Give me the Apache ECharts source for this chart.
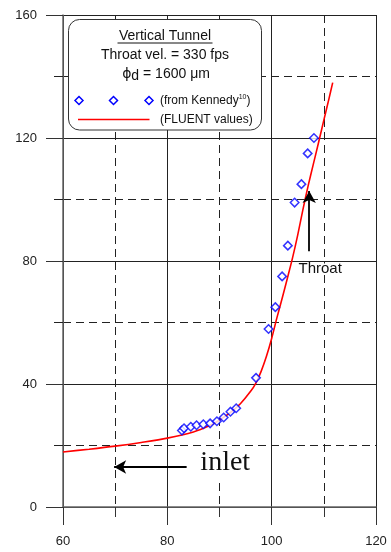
<!DOCTYPE html>
<html>
<head>
<meta charset="utf-8">
<script src="https://cdn.jsdelivr.net/npm/echarts@6/dist/echarts.min.js"></script>
<style>
  html, body { margin: 0; padding: 0; background: #fff; }
  #c { width: 391px; height: 552px; }
</style>
</head>
<body>
<div id="c"></div>
<script>
// Measured points (from Kennedy)
const kennedyX = [82.8, 83.2, 84.5, 85.6, 86.9, 88.2, 89.5, 90.8, 92.1, 93.2, 97.0, 99.4, 100.7, 102.0, 103.1, 104.4, 105.7, 106.9, 108.1];
const kennedyY = [24.9, 25.6, 26.1, 26.6, 26.9, 27.2, 27.9, 29.1, 31.0, 32.1, 42.0, 57.9, 65.0, 75.0, 85.0, 99.0, 105.0, 115.0, 120.0];

// FLUENT computed profile
const fluentX = [60, 65, 70, 75, 80, 85, 88, 90, 92, 94, 96, 97, 98, 99, 100, 101, 102, 103, 104, 105, 106, 107, 108, 109, 110, 111, 111.7];
const fluentY = [17.9, 18.8, 19.8, 21.0, 22.4, 24.4, 26.4, 28.3, 30.6, 33.6, 37.7, 40.4, 44.2, 49.0, 54.8, 61.5, 67.8, 74.3, 81.0, 88.5, 96.8, 104.5, 111.6, 118.6, 125.8, 132.9, 138.0];

// Axis ranges and labelled ticks
const xRange = [60, 120];
const yRange = [0, 160];
const xStep = 20;
const yStep = 40;

// Annotation anchors (data coordinates)
const throatArrow = [[107.2, 83.2], [107.2, 102.8]];
const throatLabel = [109.3, 77.4];
const inletArrow = [[83.7, 13.0], [69.8, 13.0]];
const inletLabel = [91.1, 14.5];

const chart = echarts.init(document.getElementById('c'), null, { renderer: 'canvas' });

const axisText = { color: '#222', fontFamily: 'Liberation Sans, Arial, sans-serif', fontSize: 13 };
const Z = 100;

const option = {
  animation: false,
  backgroundColor: '#fff',
  grid: { left: 63, right: 15, top: 15, bottom: 45, containLabel: false },
  xAxis: {
    type: 'value', min: xRange[0], max: xRange[1], interval: xStep,
    axisLine: { show: true, onZero: false, lineStyle: { color: '#666', width: 1.5 } },
    axisTick: { show: true, length: 18, lineStyle: { color: '#333', width: 1 } },
    minorTick: { show: true, splitNumber: 2, length: 10, lineStyle: { color: '#333', width: 1 } },
    axisLabel: Object.assign({ margin: 28 }, axisText),
    splitLine: { show: true, lineStyle: { color: '#222', width: 1 } },
    minorSplitLine: { show: true, lineStyle: { color: '#222', width: 1, type: [8, 5] } }
  },
  yAxis: {
    type: 'value', min: yRange[0], max: yRange[1], interval: yStep,
    axisLine: { show: true, onZero: false, lineStyle: { color: '#666', width: 1.5 } },
    axisTick: { show: true, length: 17, lineStyle: { color: '#333', width: 1 } },
    minorTick: { show: true, splitNumber: 2, length: 9, lineStyle: { color: '#222', width: 1 } },
    axisLabel: Object.assign({ margin: 26 }, axisText),
    splitLine: { show: true, lineStyle: { color: '#222', width: 1 } },
    minorSplitLine: { show: true, lineStyle: { color: '#222', width: 1, type: [8, 5] } }
  },
  series: [
    {
      name: 'FLUENT values',
      type: 'line',
      data: fluentX.map((x, i) => [x, fluentY[i]]),
      smooth: 0.3,
      showSymbol: false,
      lineStyle: { color: '#ff0000', width: 1.6 },
      z: 3,
      markLine: {
        silent: true,
        symbol: ['none', 'arrow'],
        symbolSize: [10, 12],
        label: { show: false },
        lineStyle: { color: '#000', width: 1.8, type: 'solid' },
        data: [
          [{ coord: throatArrow[0] }, { coord: throatArrow[1] }],
          [{ coord: inletArrow[0] }, { coord: inletArrow[1] }]
        ]
      },
      markPoint: {
        silent: true,
        symbol: 'circle',
        symbolSize: 1,
        itemStyle: { color: 'rgba(0,0,0,0)' },
        data: [
          {
            coord: throatLabel,
            label: { show: true, position: 'inside', formatter: 'Throat', color: '#111', fontSize: 15, lineHeight: 11,
                     fontFamily: 'Liberation Sans, Arial, sans-serif', backgroundColor: '#fff', padding: [0, 1] }
          },
          {
            coord: inletLabel,
            label: { show: true, position: 'inside', formatter: 'inlet', color: '#111', fontSize: 28,
                     fontFamily: 'Liberation Serif, Times New Roman, serif', backgroundColor: '#fff', padding: [2, 3] }
          }
        ]
      }
    },
    {
      name: 'from Kennedy',
      type: 'scatter',
      data: kennedyX.map((x, i) => [x, kennedyY[i]]),
      symbol: 'diamond',
      symbolSize: 8.5,
      itemStyle: { color: '#fff', borderColor: '#0000ff', borderWidth: 1.5 },
      z: 4
    }
  ],
  graphic: [
    { type: 'rect', z: Z, shape: { x: 68.5, y: 19.5, width: 193, height: 110.5, r: 11 }, style: { fill: '#fff', stroke: '#333', lineWidth: 1 } },
    { type: 'text', z: Z + 1, x: 165, y: 36, style: { text: 'Vertical Tunnel', fill: '#111', font: '14px "Liberation Sans", Arial, sans-serif', align: 'center', verticalAlign: 'middle' } },
    { type: 'line', z: Z + 1, shape: { x1: 117.5, y1: 43, x2: 212.5, y2: 43 }, style: { stroke: '#111', lineWidth: 1 } },
    { type: 'text', z: Z + 1, x: 165, y: 55.5, style: { text: 'Throat vel. = 330 fps', fill: '#111', font: '14px "Liberation Sans", Arial, sans-serif', align: 'center', verticalAlign: 'middle' } },
    { type: 'text', z: Z + 1, x: 166, y: 74, style: {
        text: '{phi|ϕ}{sub|d}{n| = 1600 μm}',
        align: 'center', verticalAlign: 'middle',
        rich: {
          phi: { fontSize: 14, fontFamily: 'DejaVu Sans, sans-serif', fill: '#111' },
          sub: { fontSize: 14, fontFamily: 'Liberation Sans, Arial, sans-serif', fill: '#111', padding: [4, 0, 0, 0] },
          n: { fontSize: 14, fontFamily: 'Liberation Sans, Arial, sans-serif', fill: '#111' }
        }
      } },
    { type: 'polygon', z: Z + 1, shape: { points: [[79, 96.5], [83, 100.5], [79, 104.5], [75, 100.5]] }, style: { fill: '#fff', stroke: '#0000ff', lineWidth: 1.5 } },
    { type: 'polygon', z: Z + 1, shape: { points: [[113.5, 96.5], [117.5, 100.5], [113.5, 104.5], [109.5, 100.5]] }, style: { fill: '#fff', stroke: '#0000ff', lineWidth: 1.5 } },
    { type: 'polygon', z: Z + 1, shape: { points: [[149, 96.5], [153, 100.5], [149, 104.5], [145, 100.5]] }, style: { fill: '#fff', stroke: '#0000ff', lineWidth: 1.5 } },
    { type: 'text', z: Z + 1, x: 160, y: 100.5, style: {
        text: '{t|(from Kennedy}{s|10}{t|)}',
        align: 'left', verticalAlign: 'middle',
        rich: {
          t: { fontSize: 12, fontFamily: 'Liberation Sans, Arial, sans-serif', fill: '#111' },
          s: { fontSize: 7, fontFamily: 'Liberation Sans, Arial, sans-serif', fill: '#111', padding: [0, 0, 6, 0] }
        }
      } },
    { type: 'line', z: Z + 1, shape: { x1: 78, y1: 119.5, x2: 149.5, y2: 119.5 }, style: { stroke: '#ff0000', lineWidth: 1.5 } },
    { type: 'text', z: Z + 1, x: 160, y: 119.5, style: { text: '(FLUENT values)', fill: '#111', font: '12px "Liberation Sans", Arial, sans-serif', align: 'left', verticalAlign: 'middle' } }
  ]
};

chart.setOption(option);
</script>
</body>
</html>
